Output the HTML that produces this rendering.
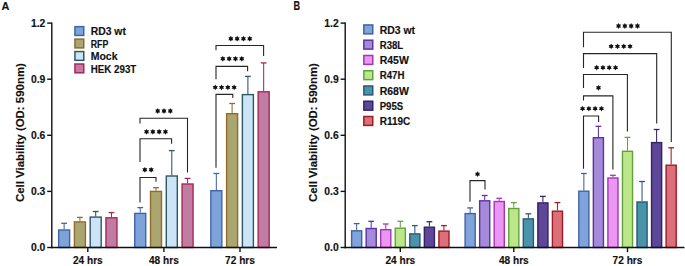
<!DOCTYPE html>
<html><head><meta charset="utf-8"><style>
html,body{margin:0;padding:0;background:#fff;width:685px;height:266px;overflow:hidden}
svg{display:block}
text{font-family:"Liberation Sans", sans-serif;font-weight:bold;fill:#111;stroke:#111;stroke-width:0.15px}
</style></head><body>
<svg width="685" height="266" viewBox="0 0 685 266">
<line x1="64.13" y1="229.30" x2="64.13" y2="223.30" stroke="#3f64aa" stroke-width="1.05"/>
<line x1="61.23" y1="223.30" x2="67.03" y2="223.30" stroke="#3f64aa" stroke-width="1.3"/>
<rect x="58.63" y="230.00" width="11.00" height="17.50" fill="#7ea3d9" stroke="#3f64aa" stroke-width="1.4"/>
<line x1="79.91" y1="221.20" x2="79.91" y2="217.40" stroke="#946a28" stroke-width="1.05"/>
<line x1="77.01" y1="217.40" x2="82.81" y2="217.40" stroke="#946a28" stroke-width="1.3"/>
<rect x="74.41" y="221.90" width="11.00" height="25.60" fill="#a9a672" stroke="#946a28" stroke-width="1.4"/>
<line x1="95.69" y1="216.40" x2="95.69" y2="211.50" stroke="#2c5862" stroke-width="1.05"/>
<line x1="92.79" y1="211.50" x2="98.59" y2="211.50" stroke="#2c5862" stroke-width="1.3"/>
<rect x="90.19" y="217.10" width="11.00" height="30.40" fill="#cde3f7" stroke="#2c5862" stroke-width="1.4"/>
<line x1="111.47" y1="217.10" x2="111.47" y2="212.60" stroke="#a8265a" stroke-width="1.05"/>
<line x1="108.57" y1="212.60" x2="114.37" y2="212.60" stroke="#a8265a" stroke-width="1.3"/>
<rect x="105.97" y="217.80" width="11.00" height="29.70" fill="#c17ca2" stroke="#a8265a" stroke-width="1.4"/>
<line x1="140.23" y1="212.70" x2="140.23" y2="207.60" stroke="#3f64aa" stroke-width="1.05"/>
<line x1="137.33" y1="207.60" x2="143.13" y2="207.60" stroke="#3f64aa" stroke-width="1.3"/>
<rect x="134.73" y="213.40" width="11.00" height="34.10" fill="#7ea3d9" stroke="#3f64aa" stroke-width="1.4"/>
<line x1="156.01" y1="190.70" x2="156.01" y2="187.70" stroke="#946a28" stroke-width="1.05"/>
<line x1="153.11" y1="187.70" x2="158.91" y2="187.70" stroke="#946a28" stroke-width="1.3"/>
<rect x="150.51" y="191.40" width="11.00" height="56.10" fill="#a9a672" stroke="#946a28" stroke-width="1.4"/>
<line x1="171.79" y1="175.30" x2="171.79" y2="150.60" stroke="#2c5862" stroke-width="1.05"/>
<line x1="168.89" y1="150.60" x2="174.69" y2="150.60" stroke="#2c5862" stroke-width="1.3"/>
<rect x="166.29" y="176.00" width="11.00" height="71.50" fill="#cde3f7" stroke="#2c5862" stroke-width="1.4"/>
<line x1="187.57" y1="183.30" x2="187.57" y2="178.40" stroke="#a8265a" stroke-width="1.05"/>
<line x1="184.67" y1="178.40" x2="190.47" y2="178.40" stroke="#a8265a" stroke-width="1.3"/>
<rect x="182.07" y="184.00" width="11.00" height="63.50" fill="#c17ca2" stroke="#a8265a" stroke-width="1.4"/>
<line x1="216.33" y1="190.00" x2="216.33" y2="173.50" stroke="#3f64aa" stroke-width="1.05"/>
<line x1="213.43" y1="173.50" x2="219.23" y2="173.50" stroke="#3f64aa" stroke-width="1.3"/>
<rect x="210.83" y="190.70" width="11.00" height="56.80" fill="#7ea3d9" stroke="#3f64aa" stroke-width="1.4"/>
<line x1="232.11" y1="113.00" x2="232.11" y2="103.50" stroke="#946a28" stroke-width="1.05"/>
<line x1="229.21" y1="103.50" x2="235.01" y2="103.50" stroke="#946a28" stroke-width="1.3"/>
<rect x="226.61" y="113.70" width="11.00" height="133.80" fill="#a9a672" stroke="#946a28" stroke-width="1.4"/>
<line x1="247.89" y1="93.90" x2="247.89" y2="76.40" stroke="#2c5862" stroke-width="1.05"/>
<line x1="244.99" y1="76.40" x2="250.79" y2="76.40" stroke="#2c5862" stroke-width="1.3"/>
<rect x="242.39" y="94.60" width="11.00" height="152.90" fill="#cde3f7" stroke="#2c5862" stroke-width="1.4"/>
<line x1="263.67" y1="91.10" x2="263.67" y2="62.90" stroke="#a8265a" stroke-width="1.05"/>
<line x1="260.77" y1="62.90" x2="266.57" y2="62.90" stroke="#a8265a" stroke-width="1.3"/>
<rect x="258.17" y="91.80" width="11.00" height="155.70" fill="#c17ca2" stroke="#a8265a" stroke-width="1.4"/>
<line x1="51.8" y1="22.5" x2="51.8" y2="248.2" stroke="#111" stroke-width="1.4"/>
<line x1="51.099999999999994" y1="247.5" x2="277" y2="247.5" stroke="#111" stroke-width="1.4"/>
<line x1="47.199999999999996" y1="247.5" x2="51.8" y2="247.5" stroke="#111" stroke-width="1.4"/>
<text x="45.3" y="251.3" font-size="10.5" text-anchor="end" textLength="14.4" lengthAdjust="spacingAndGlyphs" >0.0</text>
<line x1="47.199999999999996" y1="191.4" x2="51.8" y2="191.4" stroke="#111" stroke-width="1.4"/>
<text x="45.3" y="195.20000000000002" font-size="10.5" text-anchor="end" textLength="14.4" lengthAdjust="spacingAndGlyphs" >0.3</text>
<line x1="47.199999999999996" y1="135.3" x2="51.8" y2="135.3" stroke="#111" stroke-width="1.4"/>
<text x="45.3" y="139.10000000000002" font-size="10.5" text-anchor="end" textLength="14.4" lengthAdjust="spacingAndGlyphs" >0.6</text>
<line x1="47.199999999999996" y1="79.2" x2="51.8" y2="79.2" stroke="#111" stroke-width="1.4"/>
<text x="45.3" y="83.0" font-size="10.5" text-anchor="end" textLength="14.4" lengthAdjust="spacingAndGlyphs" >0.9</text>
<line x1="47.199999999999996" y1="23.1" x2="51.8" y2="23.1" stroke="#111" stroke-width="1.4"/>
<text x="45.3" y="26.900000000000002" font-size="10.5" text-anchor="end" textLength="14.4" lengthAdjust="spacingAndGlyphs" >1.2</text>
<line x1="87.8" y1="247.5" x2="87.8" y2="252.1" stroke="#111" stroke-width="1.4"/>
<text x="87.8" y="264.3" font-size="10.5" text-anchor="middle" textLength="29.8" lengthAdjust="spacingAndGlyphs" >24 hrs</text>
<line x1="163.9" y1="247.5" x2="163.9" y2="252.1" stroke="#111" stroke-width="1.4"/>
<text x="163.9" y="264.3" font-size="10.5" text-anchor="middle" textLength="29.8" lengthAdjust="spacingAndGlyphs" >48 hrs</text>
<line x1="240" y1="247.5" x2="240" y2="252.1" stroke="#111" stroke-width="1.4"/>
<text x="240" y="264.3" font-size="10.5" text-anchor="middle" textLength="29.8" lengthAdjust="spacingAndGlyphs" >72 hrs</text>
<text x="0" y="0" font-size="11.3" text-anchor="middle" textLength="139" lengthAdjust="spacingAndGlyphs" transform="translate(24.0,132.6) rotate(-90)">Cell Viability (OD: 590nm)</text>
<path d="M140,202.5 V177.5 H156 V181.7" fill="none" stroke="#262626" stroke-width="1.1"/>
<polygon points="144.85,166.90 145.67,168.37 147.36,168.35 146.50,169.80 147.36,171.25 145.67,171.23 144.85,172.70 144.03,171.23 142.34,171.25 143.20,169.80 142.34,168.35 144.03,168.37" fill="#111"/><polygon points="151.15,166.90 151.97,168.37 153.66,168.35 152.80,169.80 153.66,171.25 151.97,171.23 151.15,172.70 150.33,171.23 148.64,171.25 149.50,169.80 148.64,168.35 150.33,168.37" fill="#111"/>
<path d="M140,162 V138.7 H171.6 V143.8" fill="none" stroke="#262626" stroke-width="1.1"/>
<polygon points="146.55,128.90 147.38,130.37 149.06,130.35 148.20,131.80 149.06,133.25 147.38,133.23 146.55,134.70 145.73,133.23 144.04,133.25 144.90,131.80 144.04,130.35 145.73,130.37" fill="#111"/><polygon points="152.85,128.90 153.68,130.37 155.36,130.35 154.50,131.80 155.36,133.25 153.68,133.23 152.85,134.70 152.03,133.23 150.34,133.25 151.20,131.80 150.34,130.35 152.03,130.37" fill="#111"/><polygon points="159.15,128.90 159.97,130.37 161.66,130.35 160.80,131.80 161.66,133.25 159.97,133.23 159.15,134.70 158.33,133.23 156.64,133.25 157.50,131.80 156.64,130.35 158.33,130.37" fill="#111"/><polygon points="165.45,128.90 166.28,130.37 167.96,130.35 167.10,131.80 167.96,133.25 166.28,133.23 165.45,134.70 164.63,133.23 162.94,133.25 163.80,131.80 162.94,130.35 164.63,130.37" fill="#111"/>
<path d="M140,123.5 V118.3 H187.5 V172.6" fill="none" stroke="#262626" stroke-width="1.1"/>
<polygon points="157.70,108.10 158.52,109.57 160.21,109.55 159.35,111.00 160.21,112.45 158.52,112.43 157.70,113.90 156.88,112.43 155.19,112.45 156.05,111.00 155.19,109.55 156.88,109.57" fill="#111"/><polygon points="164.00,108.10 164.82,109.57 166.51,109.55 165.65,111.00 166.51,112.45 164.82,112.43 164.00,113.90 163.18,112.43 161.49,112.45 162.35,111.00 161.49,109.55 163.18,109.57" fill="#111"/><polygon points="170.30,108.10 171.12,109.57 172.81,109.55 171.95,111.00 172.81,112.45 171.12,112.43 170.30,113.90 169.47,112.43 167.79,112.45 168.65,111.00 167.79,109.55 169.47,109.57" fill="#111"/>
<path d="M216,167.8 V94.4 H232.8 V98" fill="none" stroke="#262626" stroke-width="1.1"/>
<polygon points="215.25,84.50 216.07,85.97 217.76,85.95 216.90,87.40 217.76,88.85 216.07,88.83 215.25,90.30 214.43,88.83 212.74,88.85 213.60,87.40 212.74,85.95 214.43,85.97" fill="#111"/><polygon points="221.55,84.50 222.38,85.97 224.06,85.95 223.20,87.40 224.06,88.85 222.38,88.83 221.55,90.30 220.73,88.83 219.04,88.85 219.90,87.40 219.04,85.95 220.73,85.97" fill="#111"/><polygon points="227.85,84.50 228.67,85.97 230.36,85.95 229.50,87.40 230.36,88.85 228.67,88.83 227.85,90.30 227.03,88.83 225.34,88.85 226.20,87.40 225.34,85.95 227.03,85.97" fill="#111"/><polygon points="234.15,84.50 234.97,85.97 236.66,85.95 235.80,87.40 236.66,88.85 234.97,88.83 234.15,90.30 233.33,88.83 231.64,88.85 232.50,87.40 231.64,85.95 233.33,85.97" fill="#111"/>
<path d="M216,79.2 V66.4 H247.6 V71.3" fill="none" stroke="#262626" stroke-width="1.1"/>
<polygon points="222.85,55.90 223.68,57.37 225.36,57.35 224.50,58.80 225.36,60.25 223.68,60.23 222.85,61.70 222.03,60.23 220.34,60.25 221.20,58.80 220.34,57.35 222.03,57.37" fill="#111"/><polygon points="229.15,55.90 229.98,57.37 231.66,57.35 230.80,58.80 231.66,60.25 229.98,60.23 229.15,61.70 228.33,60.23 226.64,60.25 227.50,58.80 226.64,57.35 228.33,57.37" fill="#111"/><polygon points="235.45,55.90 236.28,57.37 237.96,57.35 237.10,58.80 237.96,60.25 236.28,60.23 235.45,61.70 234.63,60.23 232.94,60.25 233.80,58.80 232.94,57.35 234.63,57.37" fill="#111"/><polygon points="241.75,55.90 242.58,57.37 244.26,57.35 243.40,58.80 244.26,60.25 242.58,60.23 241.75,61.70 240.93,60.23 239.24,60.25 240.10,58.80 239.24,57.35 240.93,57.37" fill="#111"/>
<path d="M216,50.3 V45.5 H263.6 V56.1" fill="none" stroke="#262626" stroke-width="1.1"/>
<polygon points="230.85,35.80 231.68,37.27 233.36,37.25 232.50,38.70 233.36,40.15 231.68,40.13 230.85,41.60 230.03,40.13 228.34,40.15 229.20,38.70 228.34,37.25 230.03,37.27" fill="#111"/><polygon points="237.15,35.80 237.98,37.27 239.66,37.25 238.80,38.70 239.66,40.15 237.98,40.13 237.15,41.60 236.33,40.13 234.64,40.15 235.50,38.70 234.64,37.25 236.33,37.27" fill="#111"/><polygon points="243.45,35.80 244.28,37.27 245.96,37.25 245.10,38.70 245.96,40.15 244.28,40.13 243.45,41.60 242.63,40.13 240.94,40.15 241.80,38.70 240.94,37.25 242.63,37.27" fill="#111"/><polygon points="249.75,35.80 250.58,37.27 252.26,37.25 251.40,38.70 252.26,40.15 250.58,40.13 249.75,41.60 248.93,40.13 247.24,40.15 248.10,38.70 247.24,37.25 248.93,37.27" fill="#111"/>
<rect x="74.95" y="26.65" width="8.80" height="8.80" fill="#7ea3d9" stroke="#3f64aa" stroke-width="1.5"/>
<text x="90.7" y="35.20" font-size="10.6" text-anchor="start" textLength="35.2" lengthAdjust="spacingAndGlyphs" >RD3 wt</text>
<rect x="74.95" y="39.10" width="8.80" height="8.80" fill="#a9a672" stroke="#946a28" stroke-width="1.5"/>
<text x="90.7" y="47.65" font-size="10.6" text-anchor="start" textLength="17.6" lengthAdjust="spacingAndGlyphs" >RFP</text>
<rect x="74.95" y="51.55" width="8.80" height="8.80" fill="#cde3f7" stroke="#2c5862" stroke-width="1.5"/>
<text x="90.7" y="60.10" font-size="10.6" text-anchor="start" textLength="26.8" lengthAdjust="spacingAndGlyphs" >Mock</text>
<rect x="74.95" y="64.00" width="8.80" height="8.80" fill="#c17ca2" stroke="#a8265a" stroke-width="1.5"/>
<text x="90.7" y="72.55" font-size="10.6" text-anchor="start" textLength="45.6" lengthAdjust="spacingAndGlyphs" >HEK 293T</text>
<line x1="356.65" y1="230.10" x2="356.65" y2="223.60" stroke="#3f62a5" stroke-width="1.05"/>
<line x1="353.75" y1="223.60" x2="359.55" y2="223.60" stroke="#3f62a5" stroke-width="1.3"/>
<rect x="351.60" y="230.80" width="10.10" height="16.70" fill="#7fa3da" stroke="#3f62a5" stroke-width="1.4"/>
<line x1="371.20" y1="227.80" x2="371.20" y2="221.30" stroke="#5c32a8" stroke-width="1.05"/>
<line x1="368.30" y1="221.30" x2="374.10" y2="221.30" stroke="#5c32a8" stroke-width="1.3"/>
<rect x="366.15" y="228.50" width="10.10" height="19.00" fill="#a48ad8" stroke="#5c32a8" stroke-width="1.4"/>
<line x1="385.75" y1="229.00" x2="385.75" y2="224.00" stroke="#a435b4" stroke-width="1.05"/>
<line x1="382.85" y1="224.00" x2="388.65" y2="224.00" stroke="#a435b4" stroke-width="1.3"/>
<rect x="380.70" y="229.70" width="10.10" height="17.80" fill="#ea96f2" stroke="#a435b4" stroke-width="1.4"/>
<line x1="400.30" y1="227.50" x2="400.30" y2="221.30" stroke="#62a23a" stroke-width="1.05"/>
<line x1="397.40" y1="221.30" x2="403.20" y2="221.30" stroke="#62a23a" stroke-width="1.3"/>
<rect x="395.25" y="228.20" width="10.10" height="19.30" fill="#bce68a" stroke="#62a23a" stroke-width="1.4"/>
<line x1="414.85" y1="233.20" x2="414.85" y2="225.60" stroke="#265a74" stroke-width="1.05"/>
<line x1="411.95" y1="225.60" x2="417.75" y2="225.60" stroke="#265a74" stroke-width="1.3"/>
<rect x="409.80" y="233.90" width="10.10" height="13.60" fill="#4a93ab" stroke="#265a74" stroke-width="1.4"/>
<line x1="429.40" y1="226.50" x2="429.40" y2="221.70" stroke="#322464" stroke-width="1.05"/>
<line x1="426.50" y1="221.70" x2="432.30" y2="221.70" stroke="#322464" stroke-width="1.3"/>
<rect x="424.35" y="227.20" width="10.10" height="20.30" fill="#5e4699" stroke="#322464" stroke-width="1.4"/>
<line x1="443.95" y1="230.40" x2="443.95" y2="225.60" stroke="#9e1a28" stroke-width="1.05"/>
<line x1="441.05" y1="225.60" x2="446.85" y2="225.60" stroke="#9e1a28" stroke-width="1.3"/>
<rect x="438.90" y="231.10" width="10.10" height="16.40" fill="#dd6f78" stroke="#9e1a28" stroke-width="1.4"/>
<line x1="470.15" y1="212.90" x2="470.15" y2="207.90" stroke="#3f62a5" stroke-width="1.05"/>
<line x1="467.25" y1="207.90" x2="473.05" y2="207.90" stroke="#3f62a5" stroke-width="1.3"/>
<rect x="465.10" y="213.60" width="10.10" height="33.90" fill="#7fa3da" stroke="#3f62a5" stroke-width="1.4"/>
<line x1="484.70" y1="200.10" x2="484.70" y2="195.50" stroke="#5c32a8" stroke-width="1.05"/>
<line x1="481.80" y1="195.50" x2="487.60" y2="195.50" stroke="#5c32a8" stroke-width="1.3"/>
<rect x="479.65" y="200.80" width="10.10" height="46.70" fill="#a48ad8" stroke="#5c32a8" stroke-width="1.4"/>
<line x1="499.25" y1="200.80" x2="499.25" y2="198.30" stroke="#a435b4" stroke-width="1.05"/>
<line x1="496.35" y1="198.30" x2="502.15" y2="198.30" stroke="#a435b4" stroke-width="1.3"/>
<rect x="494.20" y="201.50" width="10.10" height="46.00" fill="#ea96f2" stroke="#a435b4" stroke-width="1.4"/>
<line x1="513.80" y1="207.80" x2="513.80" y2="202.60" stroke="#62a23a" stroke-width="1.05"/>
<line x1="510.90" y1="202.60" x2="516.70" y2="202.60" stroke="#62a23a" stroke-width="1.3"/>
<rect x="508.75" y="208.50" width="10.10" height="39.00" fill="#bce68a" stroke="#62a23a" stroke-width="1.4"/>
<line x1="528.35" y1="218.20" x2="528.35" y2="213.80" stroke="#265a74" stroke-width="1.05"/>
<line x1="525.45" y1="213.80" x2="531.25" y2="213.80" stroke="#265a74" stroke-width="1.3"/>
<rect x="523.30" y="218.90" width="10.10" height="28.60" fill="#4a93ab" stroke="#265a74" stroke-width="1.4"/>
<line x1="542.90" y1="202.20" x2="542.90" y2="196.40" stroke="#322464" stroke-width="1.05"/>
<line x1="540.00" y1="196.40" x2="545.80" y2="196.40" stroke="#322464" stroke-width="1.3"/>
<rect x="537.85" y="202.90" width="10.10" height="44.60" fill="#5e4699" stroke="#322464" stroke-width="1.4"/>
<line x1="557.45" y1="210.50" x2="557.45" y2="202.60" stroke="#9e1a28" stroke-width="1.05"/>
<line x1="554.55" y1="202.60" x2="560.35" y2="202.60" stroke="#9e1a28" stroke-width="1.3"/>
<rect x="552.40" y="211.20" width="10.10" height="36.30" fill="#dd6f78" stroke="#9e1a28" stroke-width="1.4"/>
<line x1="583.85" y1="190.50" x2="583.85" y2="173.50" stroke="#3f62a5" stroke-width="1.05"/>
<line x1="580.95" y1="173.50" x2="586.75" y2="173.50" stroke="#3f62a5" stroke-width="1.3"/>
<rect x="578.80" y="191.20" width="10.10" height="56.30" fill="#7fa3da" stroke="#3f62a5" stroke-width="1.4"/>
<line x1="598.40" y1="137.00" x2="598.40" y2="126.30" stroke="#5c32a8" stroke-width="1.05"/>
<line x1="595.50" y1="126.30" x2="601.30" y2="126.30" stroke="#5c32a8" stroke-width="1.3"/>
<rect x="593.35" y="137.70" width="10.10" height="109.80" fill="#a48ad8" stroke="#5c32a8" stroke-width="1.4"/>
<line x1="612.95" y1="177.30" x2="612.95" y2="175.30" stroke="#a435b4" stroke-width="1.05"/>
<line x1="610.05" y1="175.30" x2="615.85" y2="175.30" stroke="#a435b4" stroke-width="1.3"/>
<rect x="607.90" y="178.00" width="10.10" height="69.50" fill="#ea96f2" stroke="#a435b4" stroke-width="1.4"/>
<line x1="627.50" y1="150.60" x2="627.50" y2="137.40" stroke="#62a23a" stroke-width="1.05"/>
<line x1="624.60" y1="137.40" x2="630.40" y2="137.40" stroke="#62a23a" stroke-width="1.3"/>
<rect x="622.45" y="151.30" width="10.10" height="96.20" fill="#bce68a" stroke="#62a23a" stroke-width="1.4"/>
<line x1="642.05" y1="201.30" x2="642.05" y2="181.50" stroke="#265a74" stroke-width="1.05"/>
<line x1="639.15" y1="181.50" x2="644.95" y2="181.50" stroke="#265a74" stroke-width="1.3"/>
<rect x="637.00" y="202.00" width="10.10" height="45.50" fill="#4a93ab" stroke="#265a74" stroke-width="1.4"/>
<line x1="656.60" y1="141.90" x2="656.60" y2="129.50" stroke="#322464" stroke-width="1.05"/>
<line x1="653.70" y1="129.50" x2="659.50" y2="129.50" stroke="#322464" stroke-width="1.3"/>
<rect x="651.55" y="142.60" width="10.10" height="104.90" fill="#5e4699" stroke="#322464" stroke-width="1.4"/>
<line x1="671.15" y1="164.50" x2="671.15" y2="147.80" stroke="#9e1a28" stroke-width="1.05"/>
<line x1="668.25" y1="147.80" x2="674.05" y2="147.80" stroke="#9e1a28" stroke-width="1.3"/>
<rect x="666.10" y="165.20" width="10.10" height="82.30" fill="#dd6f78" stroke="#9e1a28" stroke-width="1.4"/>
<line x1="345.2" y1="22.5" x2="345.2" y2="248.2" stroke="#111" stroke-width="1.4"/>
<line x1="344.5" y1="247.5" x2="684.5" y2="247.5" stroke="#111" stroke-width="1.4"/>
<line x1="340.59999999999997" y1="247.5" x2="345.2" y2="247.5" stroke="#111" stroke-width="1.4"/>
<text x="338.7" y="251.3" font-size="10.5" text-anchor="end" textLength="14.4" lengthAdjust="spacingAndGlyphs" >0.0</text>
<line x1="340.59999999999997" y1="191.4" x2="345.2" y2="191.4" stroke="#111" stroke-width="1.4"/>
<text x="338.7" y="195.20000000000002" font-size="10.5" text-anchor="end" textLength="14.4" lengthAdjust="spacingAndGlyphs" >0.3</text>
<line x1="340.59999999999997" y1="135.3" x2="345.2" y2="135.3" stroke="#111" stroke-width="1.4"/>
<text x="338.7" y="139.10000000000002" font-size="10.5" text-anchor="end" textLength="14.4" lengthAdjust="spacingAndGlyphs" >0.6</text>
<line x1="340.59999999999997" y1="79.2" x2="345.2" y2="79.2" stroke="#111" stroke-width="1.4"/>
<text x="338.7" y="83.0" font-size="10.5" text-anchor="end" textLength="14.4" lengthAdjust="spacingAndGlyphs" >0.9</text>
<line x1="340.59999999999997" y1="23.1" x2="345.2" y2="23.1" stroke="#111" stroke-width="1.4"/>
<text x="338.7" y="26.900000000000002" font-size="10.5" text-anchor="end" textLength="14.4" lengthAdjust="spacingAndGlyphs" >1.2</text>
<line x1="400.3" y1="247.5" x2="400.3" y2="252.1" stroke="#111" stroke-width="1.4"/>
<text x="400.3" y="264.3" font-size="10.5" text-anchor="middle" textLength="29.8" lengthAdjust="spacingAndGlyphs" >24 hrs</text>
<line x1="513.8" y1="247.5" x2="513.8" y2="252.1" stroke="#111" stroke-width="1.4"/>
<text x="513.8" y="264.3" font-size="10.5" text-anchor="middle" textLength="29.8" lengthAdjust="spacingAndGlyphs" >48 hrs</text>
<line x1="627.5" y1="247.5" x2="627.5" y2="252.1" stroke="#111" stroke-width="1.4"/>
<text x="627.5" y="264.3" font-size="10.5" text-anchor="middle" textLength="29.8" lengthAdjust="spacingAndGlyphs" >72 hrs</text>
<text x="0" y="0" font-size="11.3" text-anchor="middle" textLength="139" lengthAdjust="spacingAndGlyphs" transform="translate(317.4,132.6) rotate(-90)">Cell Viability (OD: 590nm)</text>
<path d="M470,201.7 V180.6 H485 V189.4" fill="none" stroke="#262626" stroke-width="1.1"/>
<polygon points="477.50,171.20 478.32,172.67 480.01,172.65 479.15,174.10 480.01,175.55 478.32,175.53 477.50,177.00 476.68,175.53 474.99,175.55 475.85,174.10 474.99,172.65 476.68,172.67" fill="#111"/>
<path d="M583.5,168.7 V116 H598.6 V121.9" fill="none" stroke="#262626" stroke-width="1.1"/>
<polygon points="582.55,105.70 583.38,107.17 585.06,107.15 584.20,108.60 585.06,110.05 583.38,110.03 582.55,111.50 581.72,110.03 580.04,110.05 580.90,108.60 580.04,107.15 581.72,107.17" fill="#111"/><polygon points="588.85,105.70 589.67,107.17 591.36,107.15 590.50,108.60 591.36,110.05 589.67,110.03 588.85,111.50 588.02,110.03 586.34,110.05 587.20,108.60 586.34,107.15 588.02,107.17" fill="#111"/><polygon points="595.15,105.70 595.98,107.17 597.66,107.15 596.80,108.60 597.66,110.05 595.98,110.03 595.15,111.50 594.32,110.03 592.64,110.05 593.50,108.60 592.64,107.15 594.32,107.17" fill="#111"/><polygon points="601.45,105.70 602.27,107.17 603.96,107.15 603.10,108.60 603.96,110.05 602.27,110.03 601.45,111.50 600.62,110.03 598.94,110.05 599.80,108.60 598.94,107.15 600.62,107.17" fill="#111"/>
<path d="M583.5,100.5 V95.9 H612.9 V169.5" fill="none" stroke="#262626" stroke-width="1.1"/>
<polygon points="598.50,84.90 599.33,86.37 601.01,86.35 600.15,87.80 601.01,89.25 599.33,89.23 598.50,90.70 597.67,89.23 595.99,89.25 596.85,87.80 595.99,86.35 597.67,86.37" fill="#111"/>
<path d="M583.5,88 V74.5 H627.4 V131.4" fill="none" stroke="#262626" stroke-width="1.1"/>
<polygon points="596.65,64.70 597.48,66.17 599.16,66.15 598.30,67.60 599.16,69.05 597.48,69.03 596.65,70.50 595.82,69.03 594.14,69.05 595.00,67.60 594.14,66.15 595.82,66.17" fill="#111"/><polygon points="602.95,64.70 603.77,66.17 605.46,66.15 604.60,67.60 605.46,69.05 603.77,69.03 602.95,70.50 602.12,69.03 600.44,69.05 601.30,67.60 600.44,66.15 602.12,66.17" fill="#111"/><polygon points="609.25,64.70 610.08,66.17 611.76,66.15 610.90,67.60 611.76,69.05 610.08,69.03 609.25,70.50 608.42,69.03 606.74,69.05 607.60,67.60 606.74,66.15 608.42,66.17" fill="#111"/><polygon points="615.55,64.70 616.38,66.17 618.06,66.15 617.20,67.60 618.06,69.05 616.38,69.03 615.55,70.50 614.72,69.03 613.04,69.05 613.90,67.60 613.04,66.15 614.72,66.17" fill="#111"/>
<path d="M583.5,68 V53.6 H656.7 V123.6" fill="none" stroke="#262626" stroke-width="1.1"/>
<polygon points="611.15,43.50 611.98,44.97 613.66,44.95 612.80,46.40 613.66,47.85 611.98,47.83 611.15,49.30 610.32,47.83 608.64,47.85 609.50,46.40 608.64,44.95 610.32,44.97" fill="#111"/><polygon points="617.45,43.50 618.27,44.97 619.96,44.95 619.10,46.40 619.96,47.85 618.27,47.83 617.45,49.30 616.62,47.83 614.94,47.85 615.80,46.40 614.94,44.95 616.62,44.97" fill="#111"/><polygon points="623.75,43.50 624.58,44.97 626.26,44.95 625.40,46.40 626.26,47.85 624.58,47.83 623.75,49.30 622.92,47.83 621.24,47.85 622.10,46.40 621.24,44.95 622.92,44.97" fill="#111"/><polygon points="630.05,43.50 630.88,44.97 632.56,44.95 631.70,46.40 632.56,47.85 630.88,47.83 630.05,49.30 629.22,47.83 627.54,47.85 628.40,46.40 627.54,44.95 629.22,44.97" fill="#111"/>
<path d="M583.5,47.3 V32.3 H671.3 V142" fill="none" stroke="#262626" stroke-width="1.1"/>
<polygon points="618.55,23.10 619.38,24.57 621.06,24.55 620.20,26.00 621.06,27.45 619.38,27.43 618.55,28.90 617.72,27.43 616.04,27.45 616.90,26.00 616.04,24.55 617.72,24.57" fill="#111"/><polygon points="624.85,23.10 625.67,24.57 627.36,24.55 626.50,26.00 627.36,27.45 625.67,27.43 624.85,28.90 624.02,27.43 622.34,27.45 623.20,26.00 622.34,24.55 624.02,24.57" fill="#111"/><polygon points="631.15,23.10 631.98,24.57 633.66,24.55 632.80,26.00 633.66,27.45 631.98,27.43 631.15,28.90 630.32,27.43 628.64,27.45 629.50,26.00 628.64,24.55 630.32,24.57" fill="#111"/><polygon points="637.45,23.10 638.27,24.57 639.96,24.55 639.10,26.00 639.96,27.45 638.27,27.43 637.45,28.90 636.62,27.43 634.94,27.45 635.80,26.00 634.94,24.55 636.62,24.57" fill="#111"/>
<rect x="363.85" y="24.95" width="8.90" height="8.90" fill="#7fa3da" stroke="#3f62a5" stroke-width="1.5"/>
<text x="379.7" y="33.50" font-size="10.6" text-anchor="start" textLength="35.3" lengthAdjust="spacingAndGlyphs" >RD3 wt</text>
<rect x="363.85" y="40.21" width="8.90" height="8.90" fill="#a48ad8" stroke="#5c32a8" stroke-width="1.5"/>
<text x="379.7" y="48.76" font-size="10.6" text-anchor="start" textLength="23.5" lengthAdjust="spacingAndGlyphs" >R38L</text>
<rect x="363.85" y="55.47" width="8.90" height="8.90" fill="#ea96f2" stroke="#a435b4" stroke-width="1.5"/>
<text x="379.7" y="64.02" font-size="10.6" text-anchor="start" textLength="29.1" lengthAdjust="spacingAndGlyphs" >R45W</text>
<rect x="363.85" y="70.73" width="8.90" height="8.90" fill="#bce68a" stroke="#62a23a" stroke-width="1.5"/>
<text x="379.7" y="79.28" font-size="10.6" text-anchor="start" textLength="24.8" lengthAdjust="spacingAndGlyphs" >R47H</text>
<rect x="363.85" y="85.99" width="8.90" height="8.90" fill="#4a93ab" stroke="#265a74" stroke-width="1.5"/>
<text x="379.7" y="94.54" font-size="10.6" text-anchor="start" textLength="29.1" lengthAdjust="spacingAndGlyphs" >R68W</text>
<rect x="363.85" y="101.25" width="8.90" height="8.90" fill="#5e4699" stroke="#322464" stroke-width="1.5"/>
<text x="379.7" y="109.80" font-size="10.6" text-anchor="start" textLength="23.5" lengthAdjust="spacingAndGlyphs" >P95S</text>
<rect x="363.85" y="116.51" width="8.90" height="8.90" fill="#dd6f78" stroke="#9e1a28" stroke-width="1.5"/>
<text x="379.7" y="125.06" font-size="10.6" text-anchor="start" textLength="30.5" lengthAdjust="spacingAndGlyphs" >R119C</text>
<text x="1.5" y="9.5" font-size="11.8" text-anchor="start" textLength="7.9" lengthAdjust="spacingAndGlyphs" >A</text>
<text x="293.6" y="9.5" font-size="12.2" text-anchor="start" textLength="6.6" lengthAdjust="spacingAndGlyphs" >B</text>
</svg>
</body></html>
